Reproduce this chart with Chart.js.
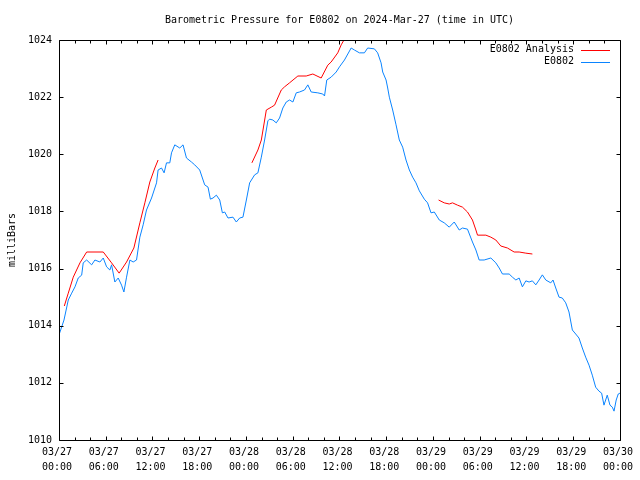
<!DOCTYPE html>
<html>
<head>
<meta charset="utf-8">
<script src="https://cdn.jsdelivr.net/npm/chart.js@4/dist/chart.umd.min.js"></script>
<style>
html,body{margin:0;padding:0;background:#fff;}
#wrap{width:640px;height:480px;}
</style>
</head>
<body>
<div id="wrap"><canvas id="c" width="640" height="480"></canvas></div>
<script>
// ---- data (hours since 2024-03-27 00:00 UTC, pressure in mb) ----
const chartTitle = 'Barometric Pressure for E0802 on 2024-Mar-27 (time in UTC)';
const yAxisTitle = 'milliBars';
const seriesNames = ['E0802 Analysis', 'E0802'];

const xTickDates = ['03/27','03/27','03/27','03/27','03/28','03/28','03/28','03/28','03/29','03/29','03/29','03/29','03/30'];
const xTickTimes = ['00:00','06:00','12:00','18:00','00:00','06:00','12:00','18:00','00:00','06:00','12:00','18:00','00:00'];
const yTickValues = [1010,1012,1014,1016,1018,1020,1022,1024];

const blueHours = [0,0.64,1.19,1.63,2.05,2.47,2.91,3.11,3.55,4.19,4.61,5.25,5.68,6.11,6.53,6.75,7.17,7.6,8.03,8.33,8.67,9.1,9.52,9.95,10.38,10.8,11.23,11.88,12.52,12.72,13.16,13.49,13.8,14.22,14.44,14.86,15.5,15.92,16.36,17.0,17.42,18.06,18.7,19.13,19.43,19.77,20.2,20.63,20.97,21.27,21.69,22.33,22.76,23.19,23.61,24.05,24.47,25.11,25.53,25.97,26.39,26.61,26.81,27.03,27.45,27.89,28.31,28.73,29.17,29.59,30.02,30.45,30.87,31.51,31.94,32.37,33.22,33.86,34.08,34.37,34.93,35.58,36.0,36.64,37.5,37.92,38.56,39.2,39.62,40.48,40.9,41.34,41.55,41.98,42.19,42.4,42.83,43.26,43.68,44.11,44.54,44.97,45.39,45.82,46.25,46.89,47.31,47.75,48.17,48.81,49.45,50.09,50.73,51.37,51.79,52.43,53.07,53.51,53.93,54.57,55.43,56.07,56.5,56.92,57.78,58.2,58.64,59.06,59.48,59.92,60.34,60.76,61.2,61.62,62.04,62.48,63.12,63.41,63.76,64.18,64.6,65.04,65.46,65.89,66.32,66.74,67.17,67.6,68.03,68.45,68.88,69.31,69.65,69.95,70.37,70.72,71.02,71.24,71.52,71.78,72.0];
const bluePressure = [1013.68,1014.2,1014.9,1015.14,1015.36,1015.67,1015.77,1016.2,1016.3,1016.13,1016.3,1016.23,1016.37,1016.06,1015.95,1016.13,1015.53,1015.67,1015.42,1015.18,1015.7,1016.3,1016.23,1016.3,1017.1,1017.53,1018.05,1018.47,1019.0,1019.45,1019.52,1019.35,1019.7,1019.7,1020.05,1020.33,1020.22,1020.33,1019.87,1019.73,1019.63,1019.45,1018.93,1018.85,1018.43,1018.47,1018.57,1018.4,1017.95,1017.98,1017.77,1017.8,1017.63,1017.77,1017.8,1018.4,1019.0,1019.28,1019.35,1019.9,1020.5,1020.85,1021.17,1021.23,1021.2,1021.1,1021.27,1021.62,1021.83,1021.9,1021.83,1022.15,1022.18,1022.25,1022.43,1022.18,1022.15,1022.11,1022.04,1022.6,1022.7,1022.88,1023.06,1023.3,1023.72,1023.65,1023.55,1023.55,1023.72,1023.69,1023.55,1023.2,1022.88,1022.6,1022.32,1022.0,1021.55,1021.03,1020.5,1020.25,1019.8,1019.45,1019.2,1019.0,1018.72,1018.43,1018.3,1017.95,1017.98,1017.7,1017.6,1017.45,1017.63,1017.35,1017.42,1017.38,1016.93,1016.65,1016.3,1016.3,1016.37,1016.2,1016.02,1015.81,1015.81,1015.7,1015.6,1015.67,1015.36,1015.57,1015.53,1015.57,1015.43,1015.6,1015.78,1015.6,1015.5,1015.6,1015.32,1015.0,1014.97,1014.8,1014.48,1013.85,1013.71,1013.57,1013.22,1012.9,1012.62,1012.27,1011.85,1011.71,1011.64,1011.22,1011.57,1011.22,1011.15,1011.01,1011.4,1011.61,1011.64];

const redHours = [0.68,1.19,1.83,2.69,3.55,5.68,6.75,7.72,8.67,9.61,10.38,11.02,11.66,12.3,12.72,
  18.0,
  24.76,25.53,25.97,26.61,27.25,27.67,28.53,28.95,29.59,30.66,31.73,32.58,33.65,34.5,34.93,35.78,36.22,36.64,37.02,
  42.0,
  48.72,49.45,50.09,50.51,51.15,51.79,52.43,53.07,53.51,53.72,54.79,55.43,56.07,56.71,57.56,58.42,59.06,59.92,60.76];
const redPressure = [1014.69,1015.14,1015.7,1016.2,1016.58,1016.58,1016.2,1015.84,1016.23,1016.72,1017.6,1018.3,1019.03,1019.52,1019.8,
  null,
  1019.7,1020.15,1020.5,1021.55,1021.65,1021.72,1022.25,1022.36,1022.5,1022.74,1022.74,1022.81,1022.67,1023.12,1023.23,1023.55,1023.83,1024.03,1024.28,
  null,
  1018.4,1018.3,1018.26,1018.3,1018.22,1018.15,1017.98,1017.7,1017.35,1017.17,1017.17,1017.1,1017.0,1016.79,1016.72,1016.58,1016.58,1016.54,1016.51];

const redColor = '#ff0000';
const blueColor = '#0a84ff';
const FONT = '"DejaVu Sans Mono", "Liberation Mono", monospace';

const toXY = (xs, ys) => xs.map((x, i) => ({x: x, y: ys[i]}));

const framePlugin = {
  id: 'gnuFrame',
  afterDraw(chart) {
    const ctx = chart.ctx;
    const a = chart.chartArea;
    const xs = chart.scales.x, ys = chart.scales.y;
    const L = Math.round(a.left) + 0.5, R = Math.round(a.right) + 0.5;
    const T = Math.round(a.top) + 0.5, B = Math.round(a.bottom) + 0.5;
    ctx.save();
    ctx.strokeStyle = '#000';
    ctx.lineWidth = 1;
    ctx.beginPath();
    ctx.rect(L, T, R - L, B - T);
    // y ticks, both sides, inward
    yTickValues.forEach(v => {
      const y = Math.round(ys.getPixelForValue(v)) + 0.5;
      ctx.moveTo(L, y); ctx.lineTo(L + 4, y);
      ctx.moveTo(R, y); ctx.lineTo(R - 4, y);
    });
    // x ticks: major every 6 h, minor every 2 h
    for (let h = 0; h <= 72; h += 2) {
      const x = Math.round(xs.getPixelForValue(h)) + 0.5;
      const len = (h % 6 === 0) ? 4 : 3;
      ctx.moveTo(x, B); ctx.lineTo(x, B - len);
      ctx.moveTo(x, T); ctx.lineTo(x, T + len);
    }
    ctx.stroke();

    // title
    ctx.fillStyle = '#000';
    ctx.font = '10px ' + FONT;
    ctx.textAlign = 'center';
    ctx.textBaseline = 'middle';
    ctx.fillText(chartTitle, (a.left + a.right) / 2, 20);

    // legend (gnuplot style, top right inside plot)
    const colors = [redColor, blueColor];
    ctx.textAlign = 'right';
    seriesNames.forEach((name, i) => {
      const y = 49.5 + i * 12;
      ctx.fillStyle = '#000';
      ctx.fillText(name, 574, y);
      ctx.strokeStyle = colors[i];
      ctx.beginPath();
      ctx.moveTo(581, Math.round(y) + 0.5);
      ctx.lineTo(610, Math.round(y) + 0.5);
      ctx.stroke();
    });
    ctx.restore();
  }
};

new Chart(document.getElementById('c'), {
  type: 'line',
  data: {
    datasets: [
      {
        label: seriesNames[0],
        data: toXY(redHours, redPressure),
        borderColor: redColor,
        borderWidth: 1,
        pointRadius: 0,
        tension: 0,
        spanGaps: false,
        fill: false
      },
      {
        label: seriesNames[1],
        data: toXY(blueHours, bluePressure),
        borderColor: blueColor,
        borderWidth: 1,
        pointRadius: 0,
        tension: 0,
        fill: false
      }
    ]
  },
  options: {
    responsive: false,
    animation: false,
    devicePixelRatio: 1,
    layout: { padding: { left: 0, right: 19, top: 40, bottom: 0 } },
    plugins: {
      legend: { display: false },
      title: { display: false },
      tooltip: { enabled: false }
    },
    scales: {
      x: {
        type: 'linear',
        min: 0,
        max: 72,
        grid: { display: false, drawTicks: false },
        border: { display: false },
        ticks: {
          stepSize: 6,
          autoSkip: false,
          maxRotation: 0,
          padding: 5,
          labelOffset: -2,
          color: '#000',
          font: { family: FONT, size: 10, lineHeight: 1.5 },
          callback: (v) => {
            const i = Math.round(v / 6);
            return [xTickDates[i], xTickTimes[i]];
          }
        },
        afterFit: (s) => { s.height = 40; }
      },
      y: {
        type: 'linear',
        min: 1010,
        max: 1024,
        grid: { display: false, drawTicks: false },
        border: { display: false },
        ticks: {
          stepSize: 2,
          padding: 7,
          color: '#000',
          font: { family: FONT, size: 10 },
          callback: (v) => String(v)
        },
        title: {
          display: true,
          text: yAxisTitle,
          color: '#000',
          font: { family: FONT, size: 10, lineHeight: 1.2 },
          padding: { top: 6, bottom: 0 }
        },
        afterFit: (s) => { s.width = 59; }
      }
    }
  },
  plugins: [framePlugin]
});
</script>
</body>
</html>
